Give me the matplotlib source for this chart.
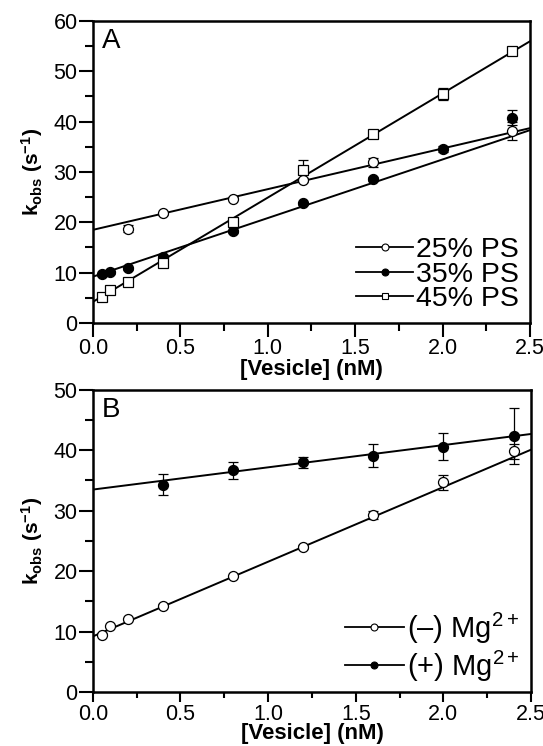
import matplotlib
matplotlib.use('Agg')
import matplotlib.pyplot as plt
import numpy as np
from matplotlib.ticker import MultipleLocator

plt.rcParams['font.family'] = ['Liberation Sans', 'DejaVu Sans']
plt.rcParams['mathtext.fontset'] = 'custom'
plt.rcParams['mathtext.rm'] = 'Liberation Sans'
plt.rcParams['mathtext.it'] = 'Liberation Sans'
plt.rcParams['mathtext.bf'] = 'Liberation Sans:bold'

# panel A: kobs vs vesicle for three PS contents
x_25 = [0.2, 0.4, 0.8, 1.2, 1.6, 2.4]
y_25 = [18.7, 21.8, 24.7, 28.4, 31.9, 38.1]
e_25 = [0.7, 0.3, 0.3, 0.3, 0.9, 1.8]

x_35 = [0.05, 0.1, 0.2, 0.4, 0.8, 1.2, 1.6, 2.0, 2.4]
y_35 = [9.7, 10.1, 10.9, 13.2, 18.2, 23.8, 28.6, 34.5, 40.8]
e_35 = [0.3, 0.3, 0.3, 0.3, 0.3, 0.3, 0.3, 0.6, 1.5]

x_45 = [0.05, 0.1, 0.2, 0.4, 0.8, 1.2, 1.6, 2.0, 2.4]
y_45 = [5.2, 6.6, 8.1, 11.9, 20.1, 30.3, 37.5, 45.5, 54.1]
e_45 = [0.3, 0.3, 0.3, 0.3, 0.3, 2.1, 0.8, 1.2, 0.5]

# fitted lines (intercept, slope)
fit_25 = (18.5, 8.08)
fit_35 = (9.2, 11.64)
fit_45 = (4.2, 20.7)

# panel B: with and without Mg2+
x_minus = [0.05, 0.1, 0.2, 0.4, 0.8, 1.2, 1.6, 2.0, 2.4]
y_minus = [9.5, 10.9, 12.1, 14.3, 19.2, 24.0, 29.3, 34.7, 39.8]
e_minus = [0.2, 0.2, 0.2, 0.2, 0.2, 0.3, 0.6, 1.2, 1.2]

x_plus = [0.4, 0.8, 1.2, 1.6, 2.0, 2.4]
y_plus = [34.3, 36.7, 38.0, 39.1, 40.6, 42.4]
e_plus = [1.7, 1.4, 0.9, 1.9, 2.2, 4.6]

fit_minus = (9.2, 12.36)
fit_plus = (33.5, 3.68)

fig = plt.figure(figsize=(5.43, 7.46), dpi=100)
axA = fig.add_axes([0.171, 0.567, 0.805, 0.405])
axB = fig.add_axes([0.171, 0.0724, 0.807, 0.405])


def series(ax, x, y, e, fit, marker, face, label):
    xs = np.array(ax.get_xlim())
    ax.plot(xs, fit[0] + fit[1] * xs, color='black', lw=1.4, zorder=2)
    ax.errorbar(x, y, yerr=e, fmt='none', ecolor='black', elinewidth=0.9,
                capsize=3.5, capthick=0.9, zorder=3)
    ax.plot(x, y, ls='none', marker=marker, ms=7.5 if marker == 's' else 7.2,
            mfc=face, mec='black', mew=0.9, zorder=4)
    # legend proxy
    ax.plot([], [], color='black', lw=1.3, marker=marker, ms=5,
            mfc=face, mec='black', mew=0.8, label=label)


def style(ax, ymax, ystep, ticklen, xpad):
    ax.set_xlim(0, 2.5)
    ax.set_ylim(0, ymax)
    ax.xaxis.set_major_locator(MultipleLocator(0.5))
    ax.xaxis.set_minor_locator(MultipleLocator(0.25))
    ax.yaxis.set_major_locator(MultipleLocator(ystep))
    ax.yaxis.set_minor_locator(MultipleLocator(ystep / 2))
    ax.set_xticks(np.arange(0, 2.51, 0.5))
    ax.set_xticklabels(['0.0', '0.5', '1.0', '1.5', '2.0', '2.5'])
    ax.tick_params(which='major', direction='out', length=10, width=1.5,
                   labelsize=15.5, pad=1)
    ax.tick_params(which='minor', direction='out', length=5.5, width=1.5)
    ax.tick_params(axis='x', which='major', length=ticklen)
    ax.tick_params(axis='x', which='minor', length=ticklen * 0.55)
    for s in ax.spines.values():
        s.set_linewidth(1.8)
    ax.set_xlabel('[Vesicle] (nM)', fontsize=16, fontweight='bold', labelpad=xpad)
    ax.set_ylabel(r'$\mathbf{k_{obs}\ (s^{-1})}$', fontsize=15, labelpad=6)


style(axA, 60, 10, 10, 0)
style(axB, 50, 10, 7.5, -1)

series(axA, x_25, y_25, e_25, fit_25, 'o', 'white', '25% PS')
series(axA, x_35, y_35, e_35, fit_35, 'o', 'black', '35% PS')
series(axA, x_45, y_45, e_45, fit_45, 's', 'white', '45% PS')

series(axB, x_minus, y_minus, e_minus, fit_minus, 'o', 'white', r'(–) Mg$^{2+}$')
series(axB, x_plus, y_plus, e_plus, fit_plus, 'o', 'black', r'(+) Mg$^{2+}$')

axA.legend(loc='lower right', bbox_to_anchor=(1.02, -0.03), frameon=False,
           fontsize=20.5, handlelength=2.0, handletextpad=0.1,
           labelspacing=-0.05, borderpad=0.2)
axB.legend(loc='lower right', bbox_to_anchor=(1.02, -0.04), frameon=False,
           fontsize=21, handlelength=2.0, handletextpad=0.1,
           labelspacing=0.1, borderpad=0.2)

axA.text(0.02, 0.975, 'A', transform=axA.transAxes, fontsize=20,
         va='top', ha='left')
axB.text(0.02, 0.975, 'B', transform=axB.transAxes, fontsize=20,
         va='top', ha='left')

fig.savefig('out.png', dpi=100)
